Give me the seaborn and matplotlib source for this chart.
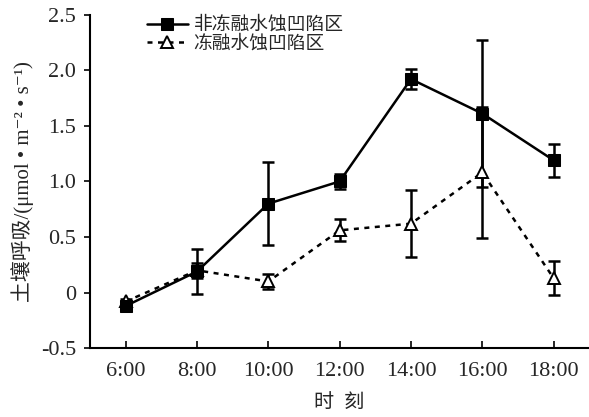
import matplotlib
matplotlib.use("Agg")
import matplotlib.pyplot as plt
import pandas as pd
import seaborn as sns

# data
times = ["6:00", "8:00", "10:00", "12:00", "14:00", "16:00", "18:00"]
non_ft = [-0.12, 0.19, 0.80, 1.00, 1.92, 1.61, 1.19]
non_ft_err = [0.02, 0.20, 0.37, 0.07, 0.09, 0.66, 0.15]
ft = [-0.08, 0.20, 0.10, 0.56, 0.62, 1.08, 0.13]
ft_err = [0.02, 0.07, 0.07, 0.10, 0.30, 0.59, 0.15]

sns.set_style("ticks")
plt.rcParams["font.family"] = ["Liberation Serif", "Noto Sans CJK SC", "DejaVu Sans"]
plt.rcParams["font.size"] = 13

df = pd.DataFrame({"pos": range(len(times)), "non_ft": non_ft, "ft": ft})

fig = plt.figure(figsize=(5.89, 4.17), dpi=100)
ax = fig.add_axes([0.153, 0.165, 0.845, 0.8])

# error bars first
ax.errorbar(df["pos"], df["non_ft"], yerr=non_ft_err, fmt="none", ecolor="black",
            elinewidth=1.8, capsize=4, capthick=1.8, zorder=2)
ax.errorbar(df["pos"], df["ft"], yerr=ft_err, fmt="none", ecolor="black",
            elinewidth=1.8, capsize=4, capthick=1.8, zorder=2)

sns.lineplot(data=df, x="pos", y="ft", ax=ax, color="black", linestyle=(0, (2, 2.2)),
             linewidth=1.8, marker="^", markersize=9, markerfacecolor="white",
             markeredgecolor="black", markeredgewidth=1.4, label="冻融水蚀凹陷区", zorder=3)
sns.lineplot(data=df, x="pos", y="non_ft", ax=ax, color="black", linewidth=1.8,
             marker="s", markersize=9, markerfacecolor="black", markeredgecolor="black",
             label="非冻融水蚀凹陷区", zorder=4)

ax.set_xlim(-0.5, 6.48)
ax.set_ylim(-0.5, 2.5)
ax.set_xticks(range(len(times)))
ax.set_xticklabels(times)
yt = [-0.5, 0, 0.5, 1.0, 1.5, 2.0, 2.5]
ax.set_yticks(yt)
ax.set_yticklabels(["-0.5", "0", "0.5", "1.0", "1.5", "2.0", "2.5"])
ax.tick_params(axis="x", direction="in", length=5, width=1.4, pad=10, labelsize=16)
ax.tick_params(axis="y", direction="out", length=4, width=1.4, pad=6, labelsize=16)

sns.despine(ax=ax)
for s in ["left", "bottom"]:
    ax.spines[s].set_linewidth(1.5)
    ax.spines[s].set_color("black")

ax.set_xlabel("时  刻", fontsize=14.5, labelpad=9)
ax.set_ylabel("土壤呼吸/(μmol • m⁻² • s⁻¹)", fontsize=15, labelpad=5)

h, l = ax.get_legend_handles_labels()
ax.legend(h[::-1], l[::-1], loc="upper left", bbox_to_anchor=(0.08, 1.045), frameon=False,
          handlelength=2.2, handletextpad=0.3, labelspacing=0.05, fontsize=13.5)

fig.savefig("out.png", dpi=100)
